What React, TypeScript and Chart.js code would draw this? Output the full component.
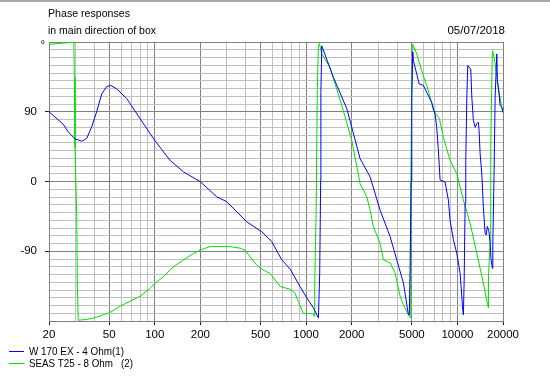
import { useEffect, useRef } from 'react';
import { Chart, registerables } from 'chart.js';

Chart.register(...registerables);

const titleLines = ['Phase responses', 'in main direction of box'];
const dateLabel = '05/07/2018';
const degreeLabel = '°';
const xTickLabels = [20, 50, 100, 200, 500, 1000, 2000, 5000, 10000, 20000];
const yTickLabels = [-90, 0, 90];
const seriesNames = ['W 170 EX - 4 Ohm(1)', 'SEAS T25 - 8 Ohm   (2)'];

const blueFreq = [20, 24.8, 26.8, 29.7, 32.9, 35.5, 38.3, 41.3, 44.6, 48.1, 51.1, 56, 65.3, 80, 100, 126, 155, 199, 257, 299, 405, 509, 593, 690, 784, 912, 1010, 1117, 1206, 1230, 1248, 1252, 1269, 1514, 1858, 2272, 2648, 3082, 3590, 3972, 4396, 4742, 4810, 4864, 4940, 4992, 5070, 5118, 5248, 5582, 5956, 6268, 6762, 7112, 7296, 7482, 7680, 8280, 8710, 8938, 9398, 9904, 10406, 10686, 10784, 10948, 11068, 11240, 11350, 11536, 11696, 12248, 12446, 12740, 13092, 13428, 13746, 13900, 14120, 14488, 14826, 15240, 15460, 15776, 16180, 16440, 16680, 17020, 17130, 17472, 17744, 18200, 18372, 18928, 19140, 19640, 20000];
const bluePhase = [90, 74, 64, 55, 52, 55.5, 70.5, 90, 113, 122.5, 124, 119.6, 107, 81, 53, 27.4, 12.3, 0, -19.8, -26, -52, -64.8, -77.6, -101, -113, -135.5, -150, -163, -176, -118, 2, 115, 175, 134.5, 94, 29.6, 6, -37, -71, -101, -131, -172, -172, -116, 0, 111, 167, 156, 147.5, 126, 124, 115, 102, 87, 70, 40, 2, -0.5, -24, -50, -75, -92.6, -118, -148, -161, -172, -131, -28, 27, 109, 149.5, 145, 109, 79, 70, 74.6, 76.6, 66, 36, 10, -32.6, -67, -69, -58, -65, -80, -101, -112, -80, 14.6, 109, 164.6, 130, 109, 98, 96, 89];

const greenFreq = [20, 26.2, 28.7, 29.2, 29.4, 29.7, 30.5, 30.8, 31.2, 35.5, 41.3, 50.6, 58.9, 80, 93, 100, 113.9, 132.6, 154, 180, 199, 232, 314, 366, 395, 426, 472, 522, 578, 673, 784, 845, 889, 959, 1117, 1134, 1140, 1164, 1186, 1206, 1225, 1269, 1439, 1722, 2004, 2272, 2518, 2648, 2782, 3082, 3238, 3590, 3872, 4178, 4396, 4742, 4900, 4918, 4992, 5070, 5384, 5808, 6428, 6934, 7604, 8072, 8938, 9904, 10948, 12134, 13428, 14826, 15776, 16024, 16030, 16440, 16600, 16866, 17020, 17290, 17744, 18200, 18928, 19640, 20000];
const greenPhase = [177, 179, 179.5, 179, 134, 44, -45, -135, -179, -178, -175, -169, -161, -148, -138, -131.5, -123, -110, -101.5, -93, -88.6, -84, -84, -86, -88.6, -97, -108, -114.4, -118.6, -135.5, -139, -144, -155, -170, -170.6, -174, -131, -43, 120, 175, 178, 164.6, 147, 98, 53, -2.6, -19.8, -37, -58, -80, -101, -105, -118, -148, -159, -172, -176, 0, 120, 177, 164.6, 143, 117, 92, 81, 57, 27, 10, -24, -54, -92.6, -131, -157, -163, -123, -80, 44.5, 130, 169, 164.6, 151.7, 134.5, 113, 96, 89];

const seriesColors = ['#0000ff', '#00e000'];

const FONT = "'Liberation Sans', Arial, sans-serif";
const FONT_SIZE = 11.5;

function buildFreqGrid(): number[] {
  const out: number[] = [];
  for (const dec of [10, 100, 1000, 10000]) {
    for (let m = 1; m <= 9; m++) {
      const v = m * dec;
      if (v >= 20 && v <= 20000) out.push(v);
    }
  }
  return out;
}
const freqGrid = buildFreqGrid();
const phaseGrid: number[] = [];
for (let v = -180; v <= 180; v += 10) phaseGrid.push(v);

const decorPlugin = {
  id: 'decor',
  afterDraw(chart: any) {
    const ctx = chart.ctx as CanvasRenderingContext2D;
    const area = chart.chartArea;
    ctx.save();
    ctx.fillStyle = '#a8a8a8';
    ctx.fillRect(0, 0, chart.width, 2);

    ctx.fillStyle = '#000';
    ctx.font = `${FONT_SIZE}px ${FONT}`;
    ctx.textBaseline = 'alphabetic';
    ctx.textAlign = 'left';
    ctx.fillText(titleLines[0], 48, 17, 82);
    ctx.fillText(titleLines[1], 48, 34, 108);
    ctx.textAlign = 'right';
    ctx.fillText(dateLabel, area.right + 2, 34);

    ctx.textAlign = 'right';
    ctx.textBaseline = 'top';
    ctx.fillText(degreeLabel, area.left - 4, area.top - 3);

    const legendY = [351.5, 363.5];
    const legendW = [95, 104];
    ctx.textAlign = 'left';
    ctx.textBaseline = 'alphabetic';
    for (let i = 0; i < seriesNames.length; i++) {
      ctx.strokeStyle = seriesColors[i];
      ctx.lineWidth = 1;
      ctx.beginPath();
      ctx.moveTo(9, legendY[i]);
      ctx.lineTo(24, legendY[i]);
      ctx.stroke();
      ctx.fillStyle = '#000';
      ctx.fillText(seriesNames[i], 29, legendY[i] + 3.5, legendW[i]);
    }
    ctx.restore();
  },
};

export default function App() {
  const canvasRef = useRef<HTMLCanvasElement | null>(null);

  useEffect(() => {
    const canvas = canvasRef.current;
    if (!canvas) return;
    const toPoints = (xs: number[], ys: number[]) => xs.map((x, i) => ({ x, y: ys[i] }));
    const isMajorX = (v: number) => xTickLabels.includes(v);
    const isMajorY = (v: number) => yTickLabels.includes(v) || Math.abs(v) === 180;

    const chart = new Chart(canvas, {
      type: 'line',
      data: {
        datasets: [
          {
            label: seriesNames[0],
            data: toPoints(blueFreq, bluePhase),
            borderColor: seriesColors[0],
            borderWidth: 1,
            pointRadius: 0,
            tension: 0,
            fill: false,
          },
          {
            label: seriesNames[1],
            data: toPoints(greenFreq, greenPhase),
            borderColor: seriesColors[1],
            borderWidth: 1,
            pointRadius: 0,
            tension: 0,
            fill: false,
          },
        ],
      },
      options: {
        animation: false,
        responsive: false,
        devicePixelRatio: 1,
        layout: { padding: { left: 0, right: 47, top: 42, bottom: 0 } },
        plugins: {
          legend: { display: false },
          title: { display: false },
          tooltip: { enabled: false },
        },
        scales: {
          x: {
            type: 'logarithmic',
            min: 20,
            max: 20000,
            afterBuildTicks: (scale: any) => {
              scale.ticks = freqGrid.map((v) => ({ value: v }));
            },
            afterFit: (scale: any) => {
              scale.height = 55;
            },
            ticks: {
              autoSkip: false,
              maxRotation: 0,
              minRotation: 0,
              padding: 3,
              color: '#000',
              font: { family: FONT, size: FONT_SIZE },
              callback: (value: any) => (isMajorX(Number(value)) ? String(value) : ''),
            },
            grid: {
              color: (c: any) => (c.tick && isMajorX(c.tick.value) ? '#808080' : '#c0c0c0'),
              tickColor: (c: any) => (c.tick && isMajorX(c.tick.value) ? '#202020' : 'rgba(0,0,0,0)'),
              tickLength: 4,
              lineWidth: 1,
            },
            border: { color: '#808080', width: 1 },
          },
          y: {
            type: 'linear',
            min: -180,
            max: 180,
            afterBuildTicks: (scale: any) => {
              scale.ticks = phaseGrid.map((v) => ({ value: v }));
            },
            afterFit: (scale: any) => {
              scale.width = 49;
            },
            ticks: {
              autoSkip: false,
              padding: 8,
              color: '#000',
              font: { family: FONT, size: FONT_SIZE },
              callback: (value: any) => (yTickLabels.includes(Number(value)) ? String(value) : ''),
            },
            grid: {
              color: (c: any) => (c.tick && isMajorY(c.tick.value) ? '#808080' : '#c0c0c0'),
              tickColor: (c: any) => (c.tick && yTickLabels.includes(c.tick.value) ? '#202020' : 'rgba(0,0,0,0)'),
              tickLength: 4,
              lineWidth: 1,
            },
            border: { color: '#808080', width: 1 },
          },
        },
      },
      plugins: [decorPlugin],
    } as any);

    return () => {
      chart.destroy();
    };
  }, []);

  return (
    <div style={{ position: 'fixed', left: 0, top: 0, width: 550, height: 376, background: '#fff' }}>
      <canvas ref={canvasRef} width={550} height={376} style={{ display: 'block', width: 550, height: 376 }} />
    </div>
  );
}
